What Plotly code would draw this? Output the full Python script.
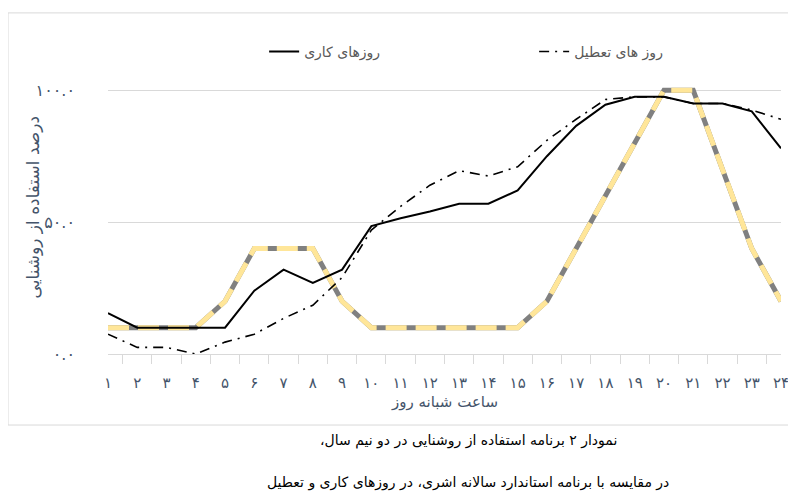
import plotly.graph_objects as go

# ساعت شبانه روز (Persian digits)
hours = ["۱", "۲", "۳", "۴", "۵", "۶", "۷", "۸", "۹", "۱۰", "۱۱", "۱۲",
         "۱۳", "۱۴", "۱۵", "۱۶", "۱۷", "۱۸", "۱۹", "۲۰", "۲۱", "۲۲", "۲۳", "۲۴"]

working_days = [15.5, 10, 10, 10, 10, 24, 32, 27, 32, 48.5, 51.5, 54,
                57, 57, 62, 75, 86.5, 94.5, 97.5, 97.5, 95, 95, 92, 78]
holidays = [7.5, 2.5, 2.5, 0, 4.5, 7.5, 13.5, 18.5, 29, 47, 56, 64,
            69.5, 67.5, 71, 81, 89, 96.5, 97.5, 97.5, 95, 95, 92.5, 89]
standard_ashrae = [10, 10, 10, 10, 20, 40, 40, 40, 20, 10, 10, 10,
                   10, 10, 10, 20, 40, 60, 80, 100, 100, 70, 40, 20]

legend_names = ["روزهای کاری", "روز های تعطیل"]
y_ticks = [0, 50, 100]
y_tick_text = ["۰.۰", "۵۰.۰", "۱۰۰.۰"]

slate = "#44546A"
grid = "#D9D9D9"
font_family = "DejaVu Sans, sans-serif"
RLM = "\u200f"

fig = go.Figure()

# standard schedule: grey line with yellow dashes on top
fig.add_trace(go.Scatter(x=hours, y=standard_ashrae, mode="lines", showlegend=False,
                         line=dict(color="#808080", width=5), hoverinfo="skip"))
fig.add_trace(go.Scatter(x=hours, y=standard_ashrae, mode="lines", showlegend=False,
                         line=dict(color="#FFE699", width=5, dash="21px,9px")))

fig.add_trace(go.Scatter(x=hours, y=working_days, mode="lines", name=legend_names[0],
                         line=dict(color="#000000", width=2)))
fig.add_trace(go.Scatter(x=hours, y=holidays, mode="lines", name=legend_names[1],
                         line=dict(color="#000000", width=1.6, dash="10px,6px,2px,6px")))

# the page body adds an 8px margin, so the figure is 8px smaller each way
fig.update_layout(
    width=788, height=490,
    margin=dict(l=100, r=15, t=77, b=144, autoexpand=False),
    paper_bgcolor="white", plot_bgcolor="white",
    font=dict(family=font_family, color=slate),
    legend=dict(orientation="h", x=0.232, xanchor="left", y=1.123, yanchor="middle",
                font=dict(size=14, color="#595959"), entrywidth=225,
                bgcolor="rgba(0,0,0,0)"),
)

fig.update_xaxes(
    type="category", tickson="boundaries", ticks="outside", ticklen=9,
    tickcolor=grid, showline=True, linecolor=grid, linewidth=1,
    showgrid=False, tickfont=dict(size=15, color=slate), ticklabelstandoff=15,
)
fig.update_yaxes(
    range=[0, 102], tickvals=y_ticks, ticktext=y_tick_text,
    showgrid=True, gridcolor=grid, gridwidth=1, zeroline=False,
    tickfont=dict(size=16, color=slate), ticklabelstandoff=32,
)

# axis titles
fig.add_annotation(text="درصد استفاده از روشنایی", xref="paper", yref="paper",
                   x=-0.111, y=0.546, xanchor="center", yanchor="middle",
                   textangle=-90, showarrow=False,
                   font=dict(size=17, color=slate))
fig.add_annotation(text="ساعت شبانه روز", xref="paper", yref="paper",
                   x=0.5, y=-0.178, xanchor="center", yanchor="middle", showarrow=False,
                   font=dict(size=15, color=slate))

# caption
fig.add_annotation(text="نمودار ۲ برنامه استفاده از روشنایی در دو نیم سال،" + RLM,
                   xref="paper", yref="paper", x=0.535, y=-0.323,
                   xanchor="center", yanchor="middle", showarrow=False,
                   font=dict(size=14, color="#000000"))
fig.add_annotation(text="در مقایسه با برنامه استاندارد سالانه اشری، در روزهای کاری و تعطیل",
                   xref="paper", yref="paper", x=0.535, y=-0.476,
                   xanchor="center", yanchor="middle", showarrow=False,
                   font=dict(size=14, color="#000000"))

# outer chart border
fig.add_shape(type="rect", xref="paper", yref="paper",
              x0=-0.1486, x1=1.05, y0=-0.264, y1=1.268,
              line=dict(color=grid, width=1), fillcolor="rgba(0,0,0,0)", layer="below")

fig.write_html("out.html")
